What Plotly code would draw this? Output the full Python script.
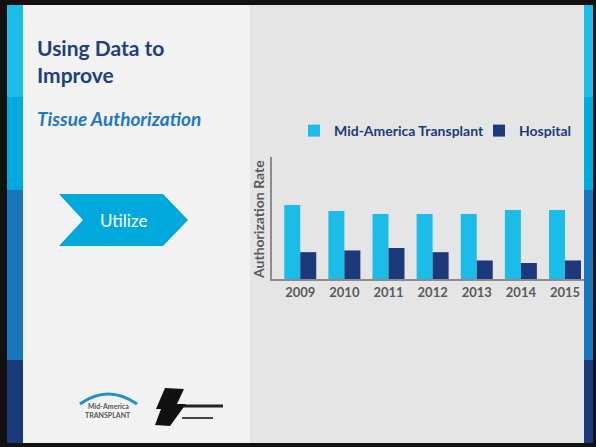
import plotly.graph_objects as go

W, H = 596, 447

years = ["2009", "2010", "2011", "2012", "2013", "2014", "2015"]
mid_america = [60.7, 55.7, 53.3, 53.3, 53.3, 56.6, 56.6]
hospital = [22.0, 23.4, 25.4, 22.0, 15.2, 13.1, 15.2]
series_names = ["Mid-America Transplant", "Hospital"]

CYAN = "#1bbde8"
NAVY = "#1c3a7b"
GRAY = "#5a5a5a"


def px(x):
    return x / W


def py(y):
    return 1 - y / H


def path(points, close=True):
    s = "M" + " L".join(f"{px(x):.5f},{py(y):.5f}" for x, y in points)
    return s + (" Z" if close else "")


def rect(x0, y0, x1, y1, color):
    return dict(type="rect", xref="paper", yref="paper",
                x0=px(x0), x1=px(x1), y0=py(y1), y1=py(y0),
                fillcolor=color, line=dict(width=0), layer="below")


fig = go.Figure()
fig.add_trace(go.Bar(x=years, y=mid_america, name=series_names[0],
                     marker=dict(color=CYAN, line=dict(width=0))))
fig.add_trace(go.Bar(x=years, y=hospital, name=series_names[1],
                     marker=dict(color=NAVY, line=dict(width=0))))

shapes = [
    rect(23, 5, 250, 443, "#f2f2f2"),
    rect(250, 5, 584, 443, "#e5e5e5"),
]
for (xa, xb) in [(7, 23), (584, 593)]:
    shapes += [
        rect(xa, 5, xb, 100, "#1bbde8"),
        rect(xa, 97, xb, 190, "#00aadd"),
        rect(xa, 190, xb, 360, "#1a76bc"),
        rect(xa, 360, xb, 443, "#1b3a7a"),
    ]
shapes.append(dict(type="path", xref="paper", yref="paper",
                   path=path([(59, 194), (163, 194), (188, 220), (163, 246), (59, 246), (83, 220)]),
                   fillcolor="#00a8dc", line=dict(width=0), layer="below"))
shapes.append(dict(type="path", xref="paper", yref="paper",
                   path=f"M{px(80):.5f},{py(404):.5f} Q{px(108):.5f},{py(384):.5f} {px(137):.5f},{py(404):.5f}",
                   line=dict(color="#1f8fd3", width=3), layer="below"))
shapes.append(dict(type="path", xref="paper", yref="paper",
                   path=path([(165, 388), (184, 389), (177, 404), (186, 404), (170, 426), (155, 425), (161, 409), (156, 409)]),
                   fillcolor="#111111", line=dict(width=0), layer="below"))
shapes.append(dict(type="line", xref="paper", yref="paper",
                   x0=px(183), x1=px(223), y0=py(406), y1=py(406),
                   line=dict(color="#222222", width=3), layer="below"))
shapes.append(dict(type="line", xref="paper", yref="paper",
                   x0=px(182), x1=px(213), y0=py(418), y1=py(418),
                   line=dict(color="#444444", width=2), layer="below"))

annotations = [
    dict(text="<b>Using Data to</b>", x=px(35), y=py(47), xanchor="left", yanchor="middle",
         font=dict(family="Lato", size=21, color="#1f3f7f")),
    dict(text="<b>Improve</b>", x=px(35), y=py(75), xanchor="left", yanchor="middle",
         font=dict(family="Lato", size=21, color="#1f3f7f")),
    dict(text="<b><i>Tissue Authorization</i></b>", x=px(35), y=py(118), xanchor="left", yanchor="middle",
         font=dict(family="Lato", size=19, color="#1f78c1")),
    dict(text="Utilize", x=px(123), y=py(220), xanchor="center", yanchor="middle",
         font=dict(family="Lato", size=17, color="white")),
    dict(text="<b>Authorization Rate</b>", x=px(258), y=py(220), textangle=-90,
         xanchor="center", yanchor="middle",
         font=dict(family="Lato", size=14, color=GRAY)),
    dict(text="<b>Mid-America</b>", x=px(108), y=py(406), xanchor="center", yanchor="middle",
         font=dict(family="Lato", size=7, color="#555555")),
    dict(text="<b>TRANSPLANT</b>", x=px(108), y=py(415), xanchor="center", yanchor="middle",
         font=dict(family="Lato", size=7, color="#555555")),
]
for a in annotations:
    a.update(xref="paper", yref="paper", showarrow=False)

fig.update_layout(
    width=W, height=H,
    margin=dict(l=0, r=0, t=0, b=0, autoexpand=False),
    paper_bgcolor="#111111",
    plot_bgcolor="rgba(0,0,0,0)",
    barmode="group", bargap=0.275, bargroupgap=0,
    shapes=shapes, annotations=annotations,
    showlegend=True,
    legend=dict(orientation="h", x=px(294), y=py(131), xanchor="left", yanchor="middle",
                bgcolor="rgba(0,0,0,0)", font=dict(family="Lato", size=14, color=NAVY, weight="bold"),
                itemwidth=30, tracegroupgap=0, entrywidth=140, entrywidthmode="pixels"),
    xaxis=dict(domain=[px(272), px(584)], range=[-0.64, 6.43], showline=True, linecolor="#8c8c8c",
               linewidth=2, ticks="", showgrid=False, zeroline=False,
               tickfont=dict(family="Lato", size=13, color=GRAY, weight="bold")),
    yaxis=dict(domain=[py(279), py(157)], range=[0, 100], showline=True, linecolor="#8c8c8c",
               linewidth=2, ticks="", showgrid=False, zeroline=False, showticklabels=False),
)

fig.write_html("out.html", config={"displayModeBar": False},
               post_script="document.body.style.margin='0';document.body.style.overflow='hidden';")
